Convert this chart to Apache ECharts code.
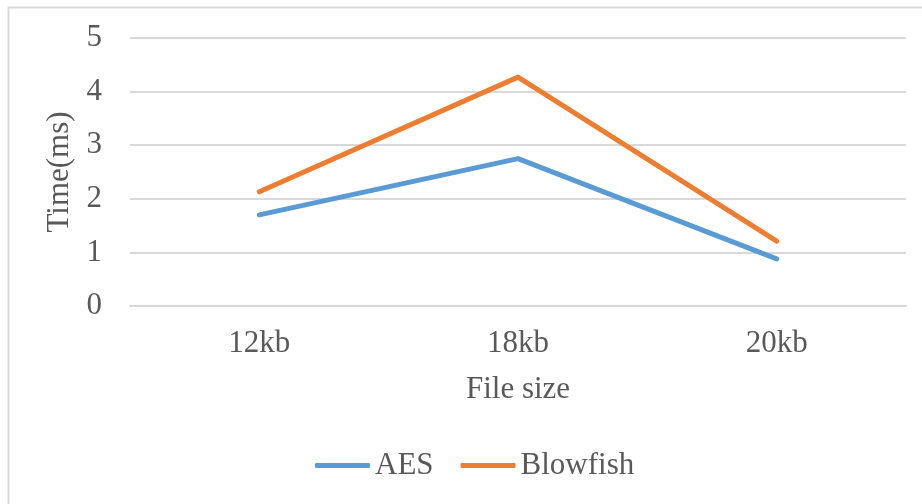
<!DOCTYPE html>
<html>
<head>
<meta charset="utf-8">
<script src="https://cdn.jsdelivr.net/npm/echarts@6/dist/echarts.min.js"></script>
<style>html,body{margin:0;padding:0;background:#fff;}#c{width:922px;height:504px;}</style>
</head>
<body>
<div id="c"></div>
<script>
const categories = ['12kb', '18kb', '20kb'];
const aesValues = [1.70, 2.75, 0.88];
const blowfishValues = [2.13, 4.27, 1.21];
const yTicks = [0, 1, 2, 3, 4, 5];
const seriesNames = ['AES', 'Blowfish'];

const font = 'Liberation Serif, Times New Roman, serif';
const fs = 31;
const chart = echarts.init(document.getElementById('c'));
chart.setOption({
  animation: false,
  backgroundColor: '#fff',
  graphic: [{
    type: 'rect',
    shape: { x: 8.5, y: 7.5, width: 940, height: 540 },
    style: { fill: 'none', stroke: '#d9d9d9', lineWidth: 2 },
    silent: true
  }],
  grid: { left: 130, right: 16, top: 38, bottom: 198 },
  legend: {
    data: seriesNames,
    bottom: 18,
    left: 310,
    icon: 'roundRect',
    itemWidth: 55,
    itemHeight: 5,
    itemGap: 27,
    textStyle: { fontFamily: font, fontSize: fs, color: '#595959' }
  },
  xAxis: {
    type: 'category',
    data: categories,
    boundaryGap: true,
    name: 'File size',
    nameLocation: 'middle',
    nameGap: 68,
    nameTextStyle: { fontFamily: font, fontSize: fs, color: '#595959' },
    axisLine: { show: true, lineStyle: { color: '#d9d9d9', width: 2 } },
    axisTick: { show: false },
    axisLabel: { fontFamily: font, fontSize: fs, color: '#595959', margin: 22 }
  },
  yAxis: {
    type: 'value',
    min: yTicks[0],
    max: yTicks[yTicks.length - 1],
    interval: 1,
    name: 'Time(ms)',
    nameLocation: 'middle',
    nameGap: 53,
    nameTextStyle: { fontFamily: font, fontSize: fs, color: '#595959' },
    axisLine: { show: false },
    axisTick: { show: false },
    axisLabel: { fontFamily: font, fontSize: fs, color: '#595959', margin: 28 },
    splitLine: { lineStyle: { color: '#d9d9d9', width: 2 } }
  },
  series: [
    {
      name: seriesNames[0], type: 'line', data: aesValues,
      symbol: 'none', color: '#5B9BD5',
      lineStyle: { width: 5, color: '#5B9BD5', cap: 'round', join: 'round' }
    },
    {
      name: seriesNames[1], type: 'line', data: blowfishValues,
      symbol: 'none', color: '#ED7D31',
      lineStyle: { width: 5, color: '#ED7D31', cap: 'round', join: 'round' }
    }
  ]
});
</script>
</body>
</html>
